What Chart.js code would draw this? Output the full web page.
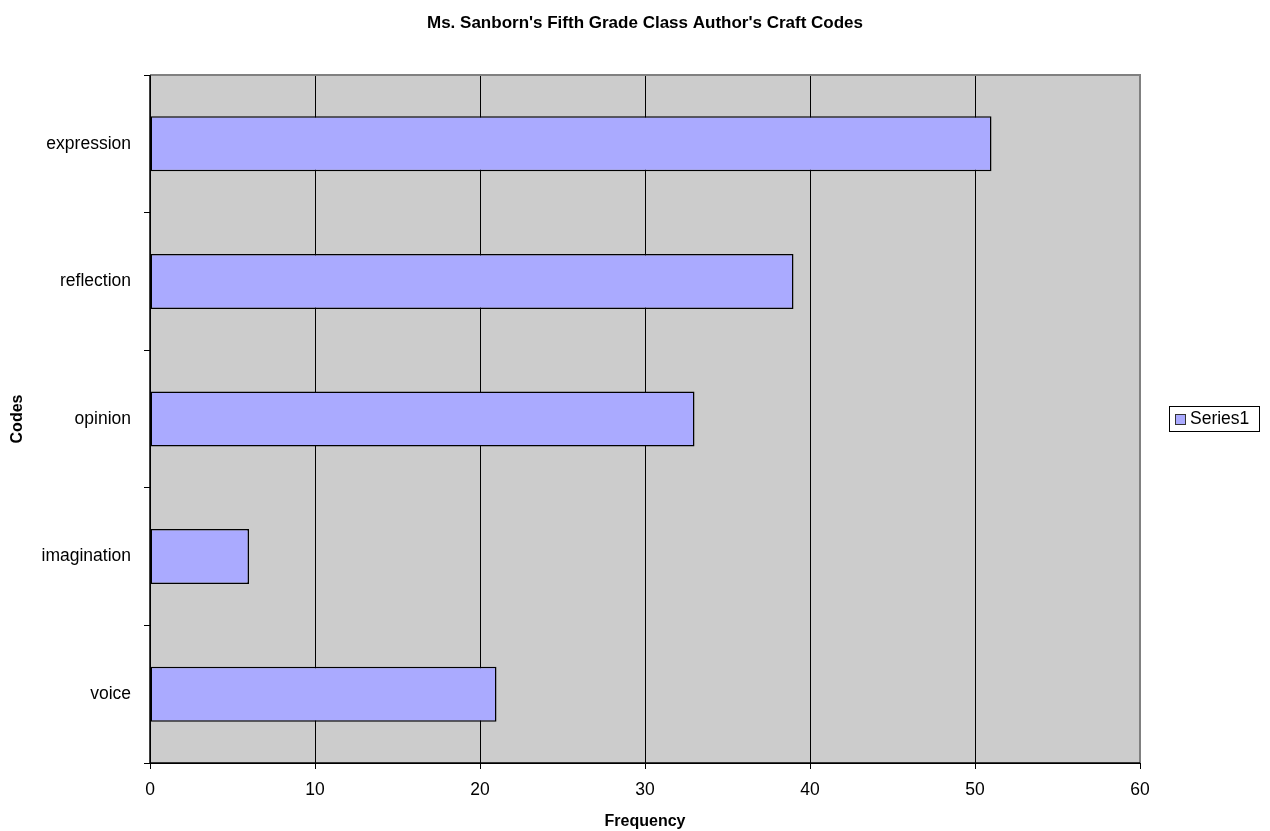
<!DOCTYPE html>
<html>
<head>
<meta charset="utf-8">
<title>Author's Craft Codes</title>
<script src="https://cdn.jsdelivr.net/npm/chart.js@4.4.1/dist/chart.umd.min.js"></script>
<style>
  html, body { margin: 0; padding: 0; background: #ffffff; }
  #wrap { width: 1270px; height: 831px; position: relative; }
</style>
</head>
<body>
<div id="wrap"><canvas id="chart" width="1270" height="831"></canvas></div>
<script>
// Code categories, top to bottom
const categories = ['expression', 'reflection', 'opinion', 'imagination', 'voice'];
// Frequency of each code
const frequency = [51, 39, 33, 6, 21];
// Frequency axis ticks
const xTicks = [0, 10, 20, 30, 40, 50, 60];
const seriesName = 'Series1';
const chartTitle = "Ms. Sanborn's Fifth Grade Class Author's Craft Codes";

const FONT = 'Arial, "Liberation Sans", Helvetica, sans-serif';
const BAR_FILL = '#AAAAFF';

// Gray plot area behind the bars, border drawn on top
const plotFrame = {
  id: 'plotFrame',
  beforeDraw(chart) {
    const { ctx, chartArea: a } = chart;
    ctx.save();
    ctx.fillStyle = '#CCCCCC';
    ctx.fillRect(a.left, a.top, a.right - a.left, a.bottom - a.top);
    ctx.restore();
  },
  afterDraw(chart) {
    const { ctx, chartArea: a } = chart;
    ctx.save();
    ctx.strokeStyle = '#808080';
    ctx.lineWidth = 2;
    ctx.beginPath();
    ctx.moveTo(a.left, a.top);
    ctx.lineTo(a.right, a.top);
    ctx.lineTo(a.right, a.bottom);
    ctx.stroke();
    ctx.strokeStyle = '#000000';
    ctx.lineWidth = 1.5;
    ctx.beginPath();
    ctx.moveTo(a.left, a.top);
    ctx.lineTo(a.left, a.bottom);
    ctx.lineTo(a.right, a.bottom);
    ctx.stroke();

    // Title, centred over the plot area
    ctx.fillStyle = '#000000';
    ctx.font = 'bold 17px ' + FONT;
    ctx.textAlign = 'center';
    ctx.textBaseline = 'middle';
    ctx.fillText(chartTitle, (a.left + a.right) / 2, 23);

    // Boxed legend on the right
    const lx = 1169, ly = 406, lw = 90, lh = 25;
    ctx.fillStyle = '#ffffff';
    ctx.fillRect(lx, ly, lw, lh);
    ctx.strokeStyle = '#000000';
    ctx.lineWidth = 1;
    ctx.strokeRect(lx + 0.5, ly + 0.5, lw, lh);
    ctx.fillStyle = BAR_FILL;
    ctx.fillRect(lx + 6, ly + 8, 10, 10);
    ctx.strokeStyle = '#333333';
    ctx.strokeRect(lx + 6.5, ly + 8.5, 10, 10);
    ctx.fillStyle = '#000000';
    ctx.font = '17.5px ' + FONT;
    ctx.textAlign = 'left';
    ctx.fillText(chart.data.datasets[0].label, lx + 21, ly + lh / 2 + 1);
    ctx.restore();
  }
};

new Chart(document.getElementById('chart'), {
  type: 'bar',
  data: {
    labels: categories,
    datasets: [{
      label: seriesName,
      data: frequency,
      backgroundColor: BAR_FILL,
      borderColor: '#000000',
      borderWidth: 1.5,
      borderSkipped: false,
      categoryPercentage: 1.0,
      barPercentage: 0.4
    }]
  },
  options: {
    indexAxis: 'y',
    responsive: false,
    animation: false,
    layout: { padding: { left: 0, right: 130, top: 75, bottom: 0 } },
    plugins: {
      legend: { display: false },
      title: { display: false },
      tooltip: { enabled: false }
    },
    scales: {
      x: {
        type: 'linear',
        min: 0,
        max: 60,
        afterBuildTicks(scale) { scale.ticks = xTicks.map(v => ({ value: v })); },
        afterFit(scale) { scale.height = 68; },
        ticks: {
          color: '#000000',
          font: { family: FONT, size: 17.5 },
          padding: 11
        },
        grid: {
          color: '#000000',
          lineWidth: 1,
          drawOnChartArea: true,
          drawTicks: true,
          tickLength: 6,
          tickColor: '#000000'
        },
        border: { display: true, color: '#000000', width: 1 },
        title: {
          display: true,
          text: 'Frequency',
          color: '#000000',
          font: { family: FONT, size: 16, weight: 'bold' },
          padding: { top: 0, bottom: 0 }
        }
      },
      y: {
        type: 'category',
        afterFit(scale) { scale.width = 150; },
        ticks: {
          color: '#000000',
          font: { family: FONT, size: 17.5 },
          padding: 13
        },
        grid: {
          offset: true,
          drawOnChartArea: false,
          drawTicks: true,
          tickLength: 6,
          color: '#000000',
          tickColor: '#000000'
        },
        border: { display: true, color: '#000000', width: 1 },
        title: {
          display: true,
          text: 'Codes',
          color: '#000000',
          font: { family: FONT, size: 16, weight: 'bold' },
          padding: { top: 8, bottom: 0 }
        }
      }
    }
  },
  plugins: [plotFrame]
});
</script>
</body>
</html>
